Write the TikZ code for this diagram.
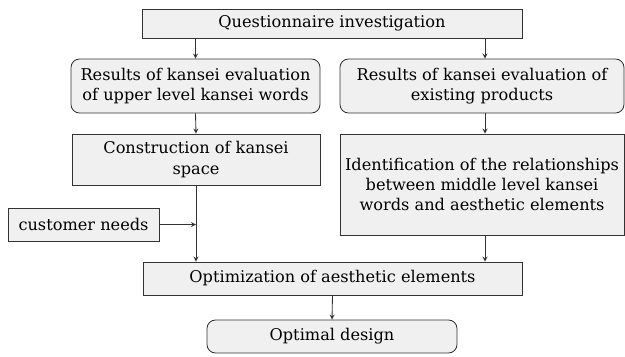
\documentclass[tikz,border=0pt]{standalone}
\usepackage{fontspec}
\setmainfont{DejaVu Serif}
\usetikzlibrary{arrows,calc,positioning}
\tikzset{FLOW style/.style={>=stealth,line width=0.6pt,every node/.append style={font=\fontsize{11.5}{14.5}\selectfont}}}

\begin{document}
\begin{tikzpicture}[x=0.025cm,y=-0.025cm,FLOW style]
	\tikzstyle{stepbox}=[draw=black!80,fill=black!6,align=center,inner sep=0pt]
	\tikzstyle{roundbox}=[stepbox,rounded corners=6pt]
	\tikzstyle{link}=[->,draw=black!80]
	\useasboundingbox (0,0) rectangle (625,356);

	\node[stepbox,minimum width=380*0.025cm,minimum height=29*0.025cm] (quest) at (332,23.5) {Questionnaire investigation};
	\node[roundbox,minimum width=249*0.025cm,minimum height=54*0.025cm] (upper) at (195.5,86) {Results of kansei evaluation\\of upper level kansei words};
	\node[roundbox,minimum width=284*0.025cm,minimum height=54*0.025cm] (exist) at (482,86) {Results of kansei evaluation of\\existing products};
	\node[stepbox,minimum width=248*0.025cm,minimum height=51*0.025cm] (constr) at (196,159.5) {Construction of kansei\\space};
	\node[stepbox,minimum width=284*0.025cm,minimum height=101*0.025cm] (ident) at (482,184.5) {Identification of the relationships\\between middle level kansei\\words and aesthetic elements};
	\node[stepbox,minimum width=151*0.025cm,minimum height=33*0.025cm] (needs) at (83.5,224.5) {customer needs};
	\node[stepbox,minimum width=379*0.025cm,minimum height=33*0.025cm] (optim) at (332.5,278.5) {Optimization of aesthetic elements};
	\node[roundbox,minimum width=250*0.025cm,minimum height=33*0.025cm] (design) at (332,336.5) {Optimal design};

	\coordinate (rcol) at (485,0);
	\coordinate (join) at (constr.south |- needs.east);

	\draw[link] (quest.south -| upper.north) -- (upper.north);
	\draw[link] (quest.south -| rcol) -- (exist.north -| rcol);
	\draw[link] (upper.south) -- (constr.north);
	\draw[link] (exist.south -| rcol) -- (ident.north -| rcol);
	\draw[link] (constr.south) -- (optim.north -| constr.south);
	\draw[link] (needs.east) -- (join);
	\draw[link] (ident.south -| rcol) -- (optim.north -| rcol);
	\draw[link] (optim.south) -- (design.north);

\end{tikzpicture}
\end{document}
